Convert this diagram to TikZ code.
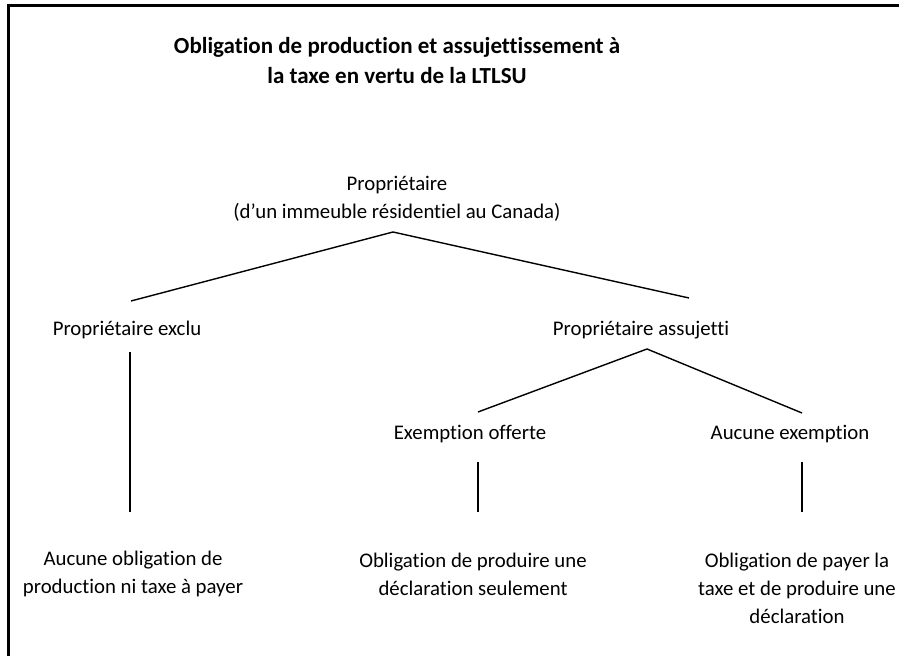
\documentclass[tikz,border=0pt]{standalone}
\usepackage{fontspec}
\setmainfont{Carlito}[Ligatures=NoCommon]
\usetikzlibrary{positioning}

\begin{document}
\begin{tikzpicture}[x=0.5pt,y=-0.5pt,
 txt/.style={align=center,inner sep=0pt,font=\fontsize{10.4}{14}\selectfont},
 ttl/.style={align=center,inner sep=0pt,font=\bfseries\fontsize{11.5}{15}\selectfont},
 branch/.style={line width=0.7pt}]
\useasboundingbox (0,0) rectangle (899,656);
\draw [line width=1.5pt] (8,656) -- (8,6) -- (899,6);
% titre
\node [ttl] (titre) at (397,61) {Obligation de production et assujettissement à\\la taxe en vertu de la LTLSU};
% niveaux
\node [txt] (proprio) at (397,199) {Propriétaire\\(d’un immeuble résidentiel au Canada)};
\node [txt] (exclu) at (127,330) {Propriétaire exclu};
\node [txt] (assujetti) at (641,330) {Propriétaire assujetti};
\node [txt] (offerte) at (470,434) {Exemption offerte};
\node [txt] (aucune) at (790,434) {Aucune exemption};
\node [txt] (rien) at (133,574) {Aucune obligation de\\production ni taxe à payer};
\node [txt] (declar) at (473,574) {Obligation de produire une\\déclaration seulement};
\node [txt] (payer) at (797,588) {Obligation de payer la\\taxe et de produire une\\déclaration};
% bouts des traits
\coordinate (r0) at (393,232);
\coordinate (r1) at (131,301);
\coordinate (r2) at (689,298);
\coordinate (a0) at (647,349);
\coordinate (a1) at (478,412);
\coordinate (a2) at (802,413);
\coordinate (e0) at (130,352);
\coordinate (e1) at (130,512);
\coordinate (o0) at (478,462);
\coordinate (o1) at (478,512);
\coordinate (n0) at (802,462);
\coordinate (n1) at (802,512);
\draw [branch] (r1) -- (r0) -- (r2);
\draw [branch] (a1) -- (a0) -- (a2);
\draw [branch] (e0) -- (e1);
\draw [branch] (o0) -- (o1);
\draw [branch] (n0) -- (n1);
\end{tikzpicture}
\end{document}
